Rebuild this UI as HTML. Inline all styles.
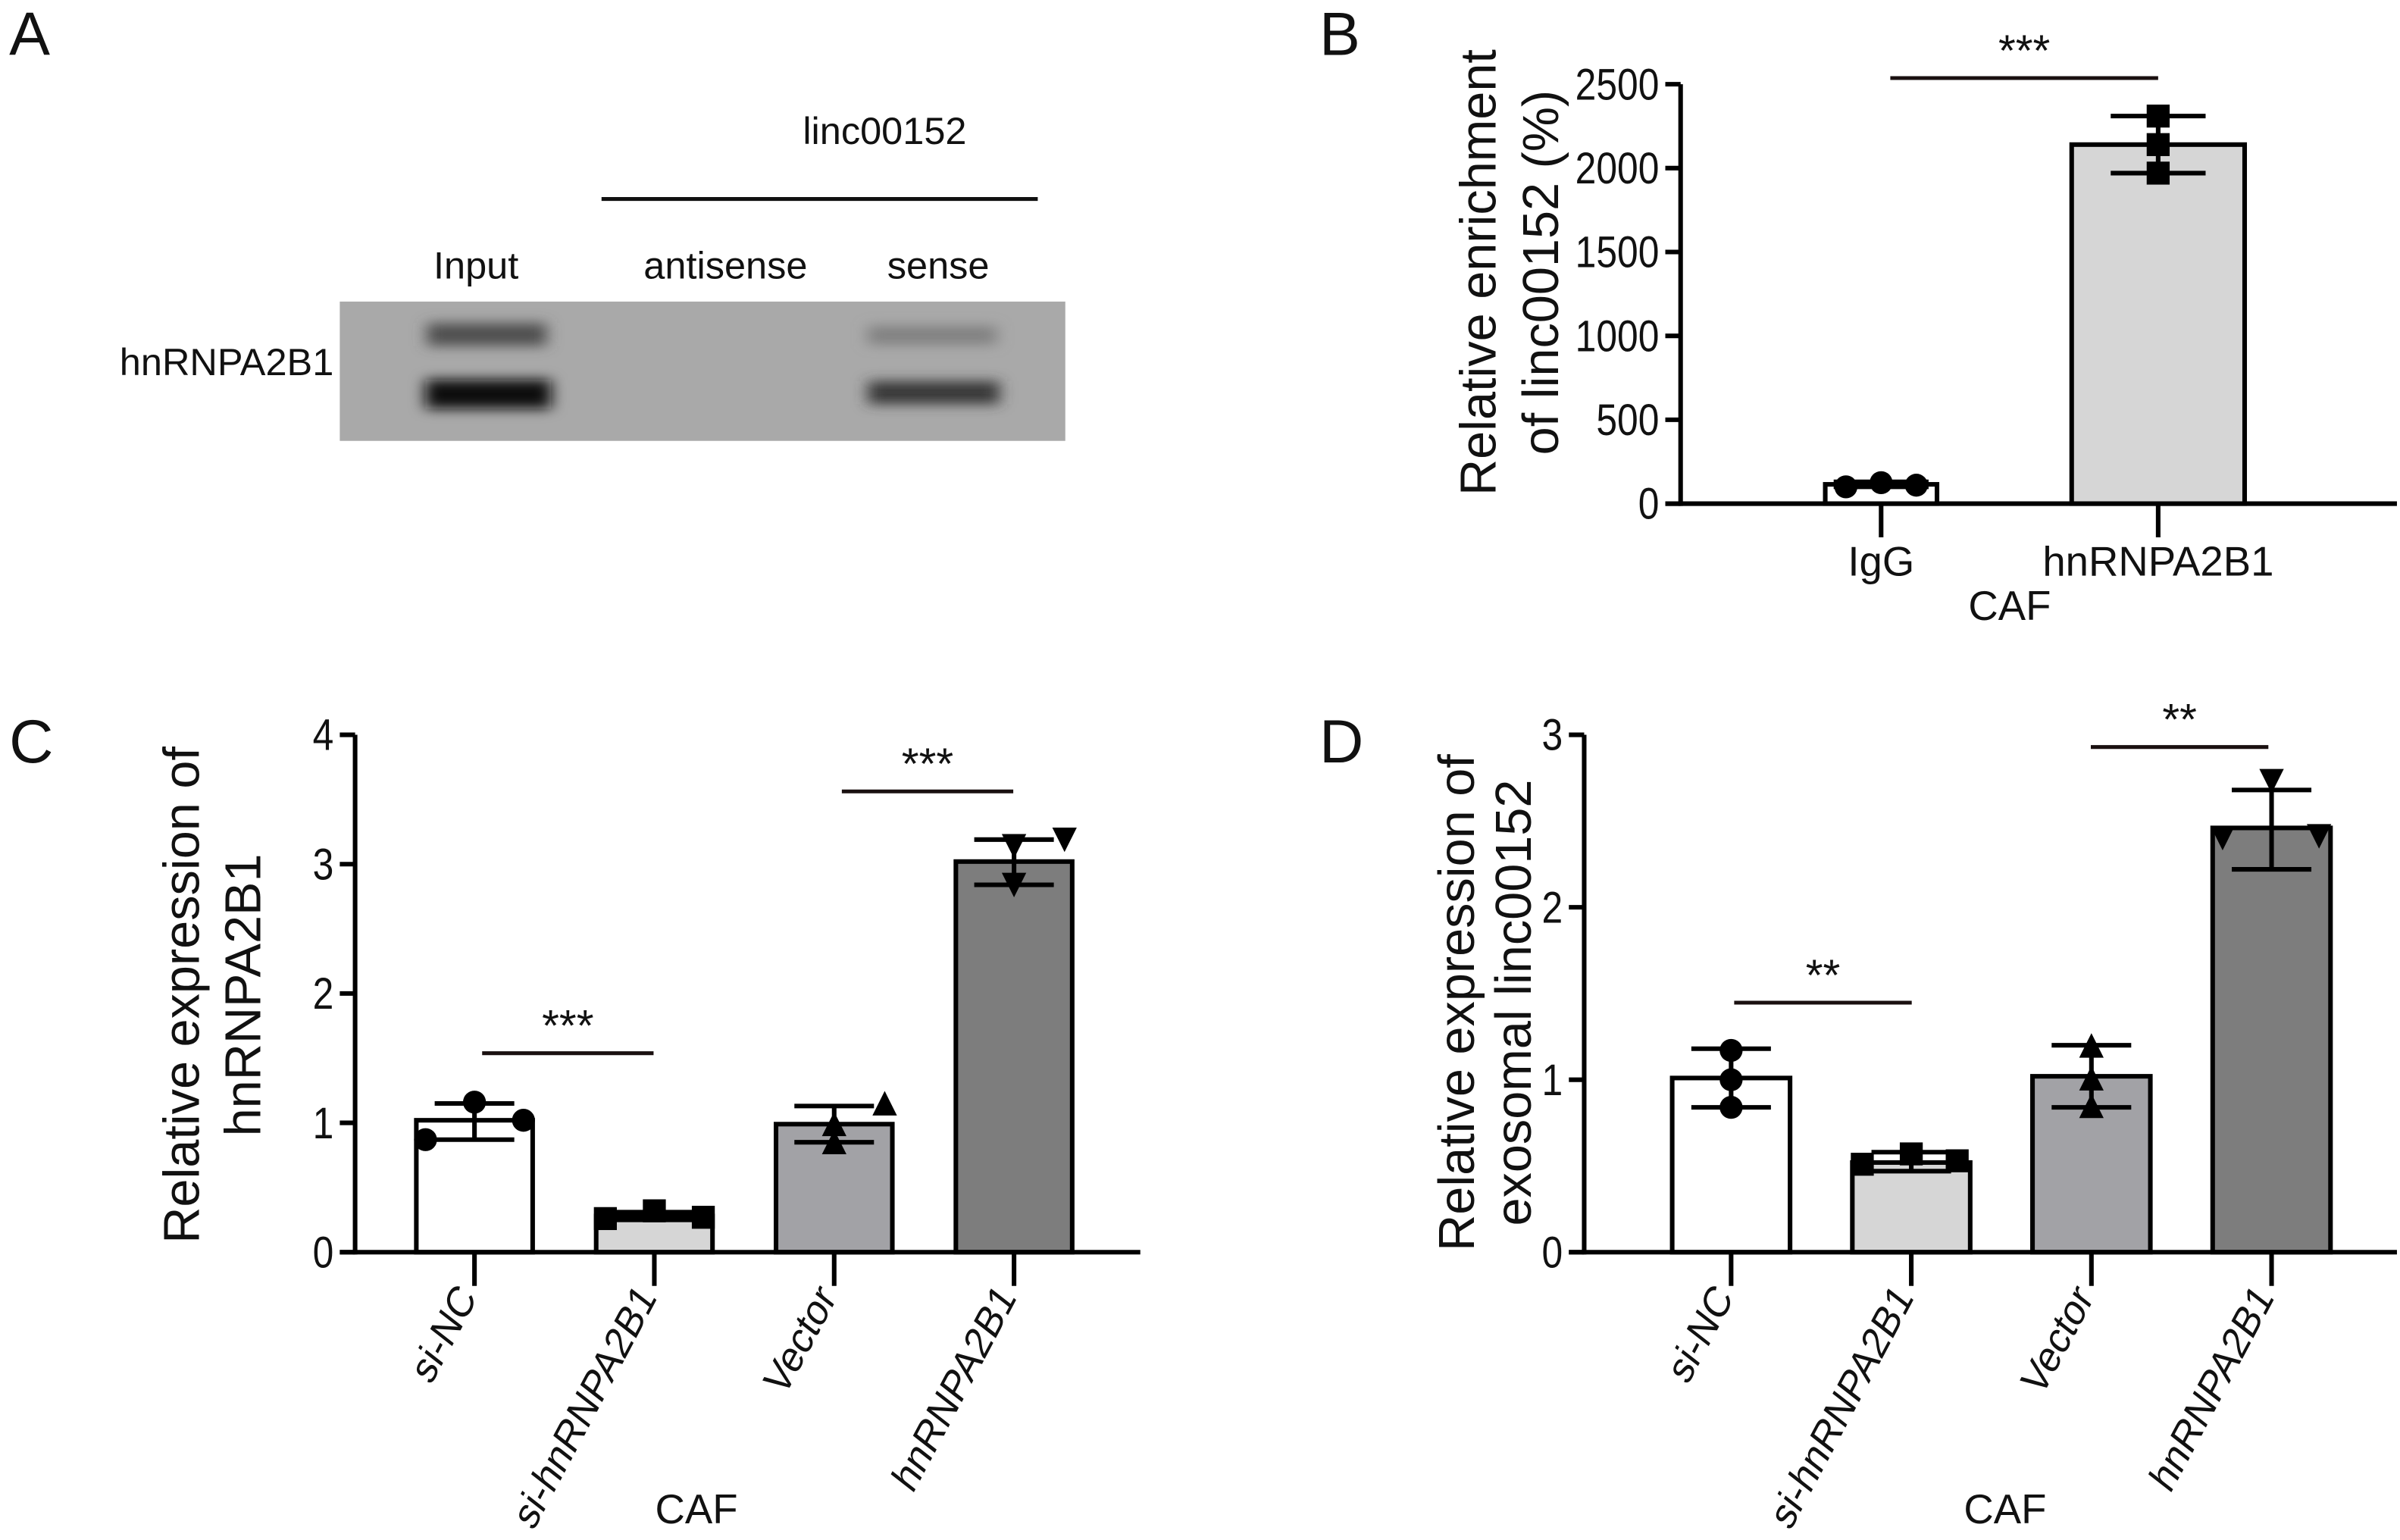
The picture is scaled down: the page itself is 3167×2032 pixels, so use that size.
<!DOCTYPE html>
<html><head><meta charset="utf-8">
<style>
html,body{margin:0;padding:0;background:#fff;}
svg{display:block;}
text{font-family:"Liberation Sans",Arial,sans-serif;fill:#111;}
</style></head>
<body>
<svg id="fig" width="3167" height="2032" viewBox="0 0 1568 1006" preserveAspectRatio="none" xmlns="http://www.w3.org/2000/svg">
<defs>
<filter id="blur" x="-20%" y="-60%" width="140%" height="220%"><feGaussianBlur stdDeviation="5 4"/></filter>
</defs>
<g>
<text x="6" y="36" font-size="40">A</text>
<text x="578" y="94" font-size="25" text-anchor="middle">linc00152</text>
<line x1="393" y1="130" x2="678" y2="130" stroke="#111" stroke-width="2.5"/>
<text x="311" y="182" font-size="25" text-anchor="middle">Input</text>
<text x="474" y="182" font-size="25" text-anchor="middle">antisense</text>
<text x="613" y="182" font-size="25" text-anchor="middle">sense</text>
<text x="218" y="245" font-size="25" text-anchor="end">hnRNPA2B1</text>
<g>
<rect x="222" y="197" width="474" height="91" fill="#a9a9a9"/>
<g filter="url(#blur)">
<rect x="279" y="211" width="78" height="15" fill="#505050"/>
<rect x="278" y="248" width="82" height="19" fill="#0e0e0e"/>
<rect x="567" y="213" width="84" height="12" fill="#808080"/>
<rect x="567" y="249" width="86" height="15" fill="#383838"/>
</g>
</g>
</g>
<g id="charts"></g>
</svg>
<script>
// ---- Panel B data ----
const bCats = ["IgG", "hnRNPA2B1"];
const bMeans = [115, 2140];
const bErrLo = [100, 1970];
const bErrHi = [130, 2310];
const bPoints = [[100, 125, 110], [1970, 2140, 2310]];
const bTicks = [0, 500, 1000, 1500, 2000, 2500];
// ---- Panel C data ----
const cCats = ["si-NC", "si-hnRNPA2B1", "Vector", "hnRNPA2B1"];
const cMeans = [1.02, 0.28, 0.99, 3.02];
const cErrLo = [0.87, 0.25, 0.85, 2.84];
const cErrHi = [1.15, 0.31, 1.13, 3.19];
const cPoints = [[0.87, 1.16, 1.02], [0.26, 0.32, 0.27], [0.84, 0.98, 1.14], [3.15, 2.85, 3.2]];
const cTicks = [0, 1, 2, 3, 4];
// ---- Panel D data ----
const dCats = ["si-NC", "si-hnRNPA2B1", "Vector", "hnRNPA2B1"];
const dMeans = [1.01, 0.52, 1.02, 2.46];
const dErrLo = [0.84, 0.47, 0.84, 2.22];
const dErrHi = [1.18, 0.58, 1.20, 2.68];
const dPoints = [[1.17, 1.0, 0.84], [0.51, 0.57, 0.53], [1.19, 1.0, 0.84], [2.41, 2.74, 2.42]];
const dTicks = [0, 1, 2, 3];

const NS = "http://www.w3.org/2000/svg";
const root = document.getElementById("charts");
function mk(tag, attrs, parent, txt) {
  const e = document.createElementNS(NS, tag);
  for (const k in attrs) e.setAttribute(k, attrs[k]);
  if (txt !== undefined) e.textContent = txt;
  (parent || root).appendChild(e);
  return e;
}
function marker(g, shape, x, y) {
  let e;
  const r = 7.5;
  if (shape === "circle") e = mk("circle", {cx: x, cy: y, r: r, fill: "#000"}, g);
  else if (shape === "square") e = mk("rect", {x: x - r, y: y - r, width: 2 * r, height: 2 * r, fill: "#000"}, g);
  else if (shape === "up") e = mk("polygon", {points: `${x},${y - 9} ${x - 8},${y + 7} ${x + 8},${y + 7}`, fill: "#000"}, g);
  else e = mk("polygon", {points: `${x},${y + 9} ${x - 8},${y - 7} ${x + 8},${y - 7}`, fill: "#000"}, g);
  
  
}

function chart(cfg) {
  const g = mk("g", {});
  
  
  const y = v => cfg.y0 - v / cfg.max * (cfg.y0 - cfg.yTop);
  const x = i => cfg.x0 + cfg.first + i * cfg.step;
  cfg.cats.forEach((c, i) => {
    const bw = cfg.bws[i];
    const b = mk("rect", {x: x(i) - bw / 2, y: y(cfg.means[i]), width: bw, height: cfg.y0 - y(cfg.means[i]), fill: cfg.fills[i], stroke: "#000", "stroke-width": 3}, g);
    
    
  });
  const ya = mk("line", {x1: cfg.x0, y1: cfg.y0 + 1.5, x2: cfg.x0, y2: cfg.yTop, stroke: "#000", "stroke-width": 3}, g);
  
  
  const xa = mk("line", {x1: cfg.x0 - 10, y1: cfg.y0, x2: cfg.xEnd, y2: cfg.y0, stroke: "#000", "stroke-width": 3}, g);
  
  
  cfg.ticks.forEach(t => {
    mk("line", {x1: cfg.x0 - 10, y1: y(t), x2: cfg.x0, y2: y(t), stroke: "#000", "stroke-width": 3}, g);
    const ax = cfg.x0 - 14;
    const tl = mk("text", {x: ax, y: y(t) + 10, "font-size": 29, "text-anchor": "end", transform: `translate(${ax},0) scale(0.85,1) translate(${-ax},0)`}, g, t);
    
    
  });
  cfg.cats.forEach((c, i) => {
    mk("line", {x1: x(i), y1: cfg.y0, x2: x(i), y2: cfg.y0 + 22, stroke: "#000", "stroke-width": 3}, g);
    let lab;
    if (cfg.rot) {
      const tx = x(i) + 2, ty = cfg.y0 + 30;
      lab = mk("text", {x: 0, y: 0, "font-size": 26, "text-anchor": "end", transform: `translate(${tx},${ty}) rotate(-62) skewX(-10)`}, g, c);
    } else {
      lab = mk("text", {x: x(i), y: cfg.y0 + 47, "font-size": 27, "text-anchor": "middle"}, g, c);
    }
    
    
  });
  cfg.cats.forEach((c, i) => {
    const cx = x(i);
    const eg = mk("g", {stroke: "#000", "stroke-width": 3}, g);
    
    
    mk("line", {x1: cx, y1: y(cfg.lo[i]), x2: cx, y2: y(cfg.hi[i])}, eg);
    mk("line", {x1: cx - cfg.cap, y1: y(cfg.lo[i]), x2: cx + cfg.cap, y2: y(cfg.lo[i])}, eg);
    mk("line", {x1: cx - cfg.cap, y1: y(cfg.hi[i]), x2: cx + cfg.cap, y2: y(cfg.hi[i])}, eg);
    cfg.pts[i].forEach((v, j) => marker(g, cfg.shapes[i], cx + cfg.jit[i][j], y(v)));
  });
  cfg.sig.forEach(s => {
    const l = mk("line", {x1: s.x1, y1: s.y, x2: s.x2, y2: s.y, stroke: "#1a1010", "stroke-width": 2.5}, g);
    
    
    const st = mk("text", {x: (s.x1 + s.x2) / 2, y: s.y - 8, "font-size": 29, "text-anchor": "middle"}, g, s.t);
    
    
  });
  cfg.titles.forEach(t => {
    const tt = mk("text", {x: 0, y: 0, "font-size": 33, "text-anchor": "middle", transform: `translate(${t.x},${cfg.titleY}) rotate(-90)`}, g, t.t);
    
    
  });
  const caf = mk("text", {x: cfg.cafX, y: cfg.cafY, "font-size": 27, "text-anchor": "middle"}, g, "CAF");
  
  
  const L = mk("text", {x: cfg.letter[0], y: cfg.letter[1], "font-size": 40}, g, cfg.letter[2]);
  
  
}

chart({name: "panel-b-chart", cats: bCats, means: bMeans, lo: bErrLo, hi: bErrHi, pts: bPoints, ticks: bTicks,
  x0: 1098, y0: 329, yTop: 55, max: 2500, xEnd: 1566, first: 131, step: 181, bws: [73, 113], cap: 31,
  fills: ["#ffffff", "#d6d6d6"], shapes: ["circle", "square"], jit: [[-23, 0, 23], [0, 0, 0]],
  sig: [{x1: 1235, x2: 1410, y: 51, t: "***"}], rot: false,
  titles: [{x: 977, t: "Relative enrichment"}, {x: 1018, t: "of linc00152 (%)"}], titleY: 178,
  cafX: 1313, cafY: 405, letter: [862, 36, "B"]});

chart({name: "panel-c-chart", cats: cCats, means: cMeans, lo: cErrLo, hi: cErrHi, pts: cPoints, ticks: cTicks,
  x0: 232, y0: 818, yTop: 480, max: 4, xEnd: 745, first: 78, step: 117.5, bws: [76, 76, 76, 76], cap: 26,
  fills: ["#ffffff", "#d6d6d6", "#a2a2a6", "#7d7d7d"], shapes: ["circle", "square", "up", "down"],
  jit: [[-32, 0, 32], [-32, 0, 32], [0, 0, 33], [0, 0, 33]],
  sig: [{x1: 315, x2: 427, y: 688, t: "***"}, {x1: 550, x2: 662, y: 517, t: "***"}], rot: true,
  titles: [{x: 130, t: "Relative expression of"}, {x: 170, t: "hnRNPA2B1"}], titleY: 650,
  cafX: 455, cafY: 995, letter: [6, 498, "C"]});

chart({name: "panel-d-chart", cats: dCats, means: dMeans, lo: dErrLo, hi: dErrHi, pts: dPoints, ticks: dTicks,
  x0: 1035, y0: 818, yTop: 480, max: 3, xEnd: 1566, first: 96, step: 117.7, bws: [77, 77, 77, 77], cap: 26,
  fills: ["#ffffff", "#d6d6d6", "#a2a2a6", "#7d7d7d"], shapes: ["circle", "square", "up", "down"],
  jit: [[0, 0, 0], [-32, 0, 30], [0, 0, 0], [-32, 0, 31]],
  sig: [{x1: 1133, x2: 1249, y: 655, t: "**"}, {x1: 1366, x2: 1482, y: 488, t: "**"}], rot: true,
  titles: [{x: 963, t: "Relative expression of"}, {x: 1000, t: "exosomal linc00152"}], titleY: 655,
  cafX: 1310, cafY: 995, letter: [862, 498, "D"]});
</script>
</body></html>
